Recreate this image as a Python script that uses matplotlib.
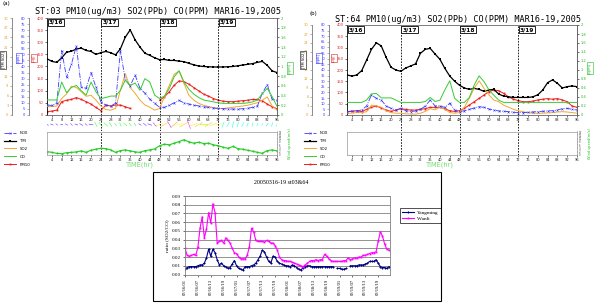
import numpy as np
import matplotlib
matplotlib.use("Agg")
import matplotlib.pyplot as plt
from matplotlib.patches import Rectangle
from matplotlib.transforms import blended_transform_factory as btf

W, H = 607, 307
fig = plt.figure(figsize=(W / 100, H / 100), dpi=100)
fig.patch.set_facecolor("white")


def R(x0, y0, x1, y1):
    return [x0 / W, 1 - y1 / H, (x1 - x0) / W, (y1 - y0) / H]


# ---------------- data ----------------
hours = np.arange(2, 97, 2)
day_labels = ["3/16", "3/17", "3/18", "3/19"]
day_starts = [0, 24, 48, 72]
x_ticks = np.arange(4, 97, 4)

# Station 03 (panel a)
nox_a = [8.2, 7.9, 9.6, 53, 31, 42, 57, 23, 22, 35, 23, 11, 8.2, 7.4, 9.6, 53, 29, 24, 33, 22,
         18, 13, 9.6, 6.3, 6.3, 8.2, 10, 12, 10, 9, 8.2, 7.4, 6.8, 6.3, 5.7, 5.5, 5.2, 4.9, 4.9, 4.9,
         5.2, 5.5, 6.3, 7.4, 18, 25, 13, 12]
tm_a = [232, 221, 217, 236, 259, 263, 272, 276, 266, 262, 250, 257, 262, 257, 248, 273, 321, 351, 310, 280,
        255, 246, 236, 228, 229, 225, 225, 222, 220, 213, 207, 202, 200, 199, 198, 198, 198, 199, 200, 203,
        206, 209, 212, 217, 221, 205, 182, 175]
so2_a = [2.6, 2.6, 2.8, 5.1, 6.5, 8.9, 8.5, 7.2, 5.8, 6.1, 4.6, 2.8, 1.7, 1.5, 2.0, 7.7, 12.8, 8.5, 6.7, 4.6,
         3.1, 2.4, 1.5, 2.0, 5.6, 9.2, 12.6, 13.6, 9.7, 6.1, 4.6, 3.6, 3.0, 2.6, 2.3, 2.0, 2.0, 2.2, 2.4, 2.6,
         2.8, 3.0, 3.4, 3.8, 4.6, 5.6, 2.8, 1.5]
co_a = [0.31, 0.31, 0.31, 0.68, 0.46, 0.57, 0.61, 0.50, 0.41, 0.68, 0.48, 0.34, 0.36, 0.39, 0.39, 0.51,
        0.72, 0.61, 0.66, 0.51, 0.75, 0.68, 0.41, 0.34, 0.39, 0.55, 0.79, 0.91, 0.68, 0.53, 0.43, 0.36,
        0.31, 0.29, 0.27, 0.25, 0.24, 0.24, 0.24, 0.24, 0.24, 0.25, 0.27, 0.31, 0.44, 0.55, 0.38, 0.18]
pm10_a = [14, 16, 20, 55, 61, 64, 72, 64, 55, 45, 31, 18, 41, 37, 41, 41, 34, 27, np.nan, np.nan,
          np.nan, np.nan, np.nan, 61, 75, 96, 123, 141, 137, 127, 113, 100, 86, 78, 68, 61, 57, 55, 55, 57,
          59, 61, 64, 64, 59, 45, 34, 26]
wind_a = [2.1, 1.6, 1.0, 0.8, 1.4, 1.6, 1.9, 2.5, 1.6, 2.9, 3.5, 4.1, 3.9, 3.1, 1.6, 2.7, 3.1, 2.5, 1.9, 1.6,
          2.7, 3.1, 3.7, 5.6, 6.6, 6.2, 7.2, 8.2, 9.3, 8.0, 7.2, 7.8, 7.0, 7.2, 6.2, 5.6, 4.7, 4.1, 5.2, 3.9,
          3.5, 2.9, 2.3, 1.6, 1.0, 2.7, 3.1, 2.5]
wdir_a = [300, 290, 310, 280, 300, 320, 290, 300, 310, 280, 150, 140, 130, 150, 140, 160, 130, 140, 150, 300,
          310, 290, 320, 70, 60, 330, 50, 80, 60, 340, 70, 60, 90, 60, 70, 80, 200, 210, 190, 200,
          210, 200, 190, 200, 210, 220, 200, 190]

# Station 64 (panel b)
nox_b = [3.0, 3.6, 3.8, 4.4, 8.0, 17.8, 14.8, 13.3, 8.0, 5.9, 4.4, 5.9, 3.8, 3.0, 3.6, 5.0, 8.0, 13.3, 8.0, 8.0,
         6.8, 10.4, 4.4, 3.0, 3.8, 5.0, 6.2, 7.4, 6.8, 5.3, 4.4, 3.6, 3.3, 3.0, 2.4, 2.1, 2.1, 2.4, 2.7, 3.0,
         3.3, 3.6, 3.8, 4.4, 5.6, 5.9, 5.0, 4.4]
tm_b = [178, 173, 178, 197, 244, 292, 321, 307, 256, 212, 200, 194, 209, 218, 227, 274, 292, 296, 271, 247,
        207, 173, 150, 132, 120, 114, 118, 114, 105, 111, 114, 93, 84, 81, 78, 78, 78, 78, 81, 90,
        111, 144, 156, 141, 120, 126, 129, 126]
so2_b = [0.6, 0.6, 0.8, 0.8, 1.1, 3.3, 3.0, 2.6, 1.4, 0.8, 0.6, 0.6, 0.4, 0.3, 0.3, 0.6, 1.2, 2.1, 1.7, 2.6,
         1.9, 0.8, 0.6, 0.8, 2.6, 5.6, 8.9, 11.4, 8.9, 6.7, 5.0, 4.4, 3.3, 2.6, 1.9, 1.4, 1.1, 0.8, 0.6, 0.6,
         0.6, 0.7, 0.8, 1.0, 1.1, 1.0, 0.8, 0.6]
co_b = [0.28, 0.28, 0.28, 0.28, 0.33, 0.47, 0.48, 0.38, 0.38, 0.38, 0.33, 0.28, 0.28, 0.28, 0.28, 0.28,
        0.30, 0.39, 0.30, 0.33, 0.56, 0.76, 0.37, 0.28, 0.28, 0.39, 0.67, 0.87, 0.74, 0.56, 0.44, 0.33,
        0.28, 0.28, 0.28, 0.28, 0.28, 0.28, 0.28, 0.28, 0.28, 0.28, 0.28, 0.28, 0.28, 0.28, 0.28, 0.28]
pm10_b = [15, 16, 19, 15, 25, 34, 40, 31, 22, 16, 22, 28, 25, 22, 22, 25, 28, 34, 34, 34,
          28, 19, 16, 19, 30, 44, 59, 74, 89, 104, 111, 108, 96, 81, 70, 64, 59, 59, 62, 67,
          70, 73, 70, 73, 67, 59, 40, 34]

# Ratio chart (hourly, 03/16 01h .. 03/19 24h)
ratio_labels = ["03/16/01", "03/16/07", "03/16/13", "03/16/19", "03/17/01", "03/17/07", "03/17/13",
                "03/17/19", "03/18/01", "03/18/07", "03/18/13", "03/18/19", "03/19/01", "03/19/07",
                "03/19/13", "03/19/19"]
yangming = [0.006, 0.008, 0.009, 0.009, 0.009, 0.009, 0.010, 0.011, 0.011, 0.013,
            0.019, 0.029, 0.021, 0.029, 0.025, 0.017, 0.011, 0.013, 0.010, 0.009,
            0.007, 0.008, 0.012, 0.016, 0.010, 0.007, 0.006, 0.005, 0.009, 0.009,
            0.009, 0.010, 0.011, 0.013, 0.017, 0.021, 0.028, 0.026, 0.020, 0.015,
            0.013, 0.021, 0.020, 0.015, 0.013, 0.012, 0.011, 0.010, 0.010, 0.009,
            0.011, 0.010, 0.008, 0.006, 0.005, 0.008, 0.009, 0.010, 0.010, 0.009,
            0.009, 0.009, 0.009, 0.009, 0.009, 0.009, 0.009, 0.009, 0.009, 0.009,
            np.nan, 0.007, 0.007, 0.006, 0.006, 0.007, np.nan, 0.010, 0.010, 0.010,
            0.010, 0.011, 0.011, 0.011, 0.012, 0.013, 0.015, 0.015, 0.015, 0.017,
            0.013, 0.009, 0.008, 0.008, 0.007, 0.009]
wanli = [0.030, 0.022, 0.021, 0.022, 0.023, 0.022, 0.031, 0.053, 0.066, 0.042,
         0.052, 0.071, 0.059, 0.081, 0.071, 0.036, 0.038, 0.039, 0.036, 0.042,
         0.039, 0.036, 0.030, 0.025, 0.024, 0.020, 0.018, 0.018, 0.018, 0.022,
         0.032, 0.053, 0.049, 0.039, 0.038, 0.038, 0.038, 0.037, 0.039, 0.038,
         0.036, 0.036, 0.033, 0.028, 0.020, 0.017, 0.016, 0.016, 0.015, 0.015,
         0.014, 0.013, 0.012, 0.011, 0.010, 0.009, 0.011, 0.013, 0.015, 0.016,
         0.016, 0.017, 0.016, 0.017, 0.017, 0.023, 0.021, 0.018, 0.016, 0.015,
         0.015, 0.015, 0.015, 0.015, 0.016, 0.016, 0.019, 0.017, 0.018, 0.019,
         0.019, 0.020, 0.020, 0.022, 0.022, 0.023, 0.024, 0.025, 0.025, 0.026,
         0.038, 0.049, 0.044, 0.035, 0.029, 0.028]

C_NOX, C_TM, C_SO2, C_CO, C_PM = "#3a3aff", "#000000", "#f0a830", "#33cc33", "#ee1c1c"
TS = 2.6  # tiny tick label size


def extra_left(ax, outward_px, lim, step, color):
    a = ax.twinx()
    a.spines["left"].set_position(("outward", outward_px * 0.72))
    a.spines["left"].set_visible(True)
    a.yaxis.set_ticks_position("left")
    for k in ["right", "top", "bottom"]:
        a.spines[k].set_visible(False)
    a.spines["left"].set_color("#777777")
    a.spines["left"].set_linewidth(0.6)
    a.set_ylim(0, lim)
    a.set_yticks(np.arange(0, lim + 0.001, step))
    a.tick_params(axis="y", labelsize=TS, labelcolor=color, color="#777777",
                  length=1.5, width=0.4, pad=1)
    return a


def panel(ox, top, tag, tag_xy, title, nox, tm, so2, co, pm10, wind, wdir):
    ax = fig.add_axes(R(ox + 47, top, ox + 277, 115))
    ax.set_xlim(2, 96)
    ax.set_ylim(0, 400)
    ax.set_yticks(np.arange(0, 401, 50))
    ax.set_xticks(x_ticks)
    ax.tick_params(axis="y", labelsize=TS, labelcolor="#dd2222", length=1.5, width=0.4, pad=1)
    ax.tick_params(axis="x", labelsize=TS, labelcolor="#222222", length=1.5, width=0.4, pad=1)
    for s in ax.spines.values():
        s.set_linewidth(0.6)
        s.set_color("#666666")
    ax.spines["left"].set_color("black")

    a_so2 = extra_left(ax, 35, 30, 3, "#e8a020")
    a_nox = extra_left(ax, 18, 80, 5, "#3333ff")
    a_co = ax.twinx()
    a_co.set_ylim(0, 2)
    a_co.set_yticks(np.arange(0, 2.01, 0.2))
    a_co.set_yticklabels(["0", "0.2", "0.4", "0.6", "0.8", "1", "1.2", "1.4", "1.6", "1.8", "2"])
    a_co.tick_params(axis="y", labelsize=TS, labelcolor="#22bb22", length=1.5, width=0.4, pad=1)
    for k in ["left", "top", "bottom"]:
        a_co.spines[k].set_visible(False)
    a_co.spines["right"].set_color("#666666")
    a_co.spines["right"].set_linewidth(0.6)

    l_pm, = ax.plot(hours, pm10, color=C_PM, lw=0.7, marker="s", ms=1.3, mew=0, label="PM10")
    l_tm, = ax.plot(hours, tm, color=C_TM, lw=0.9, marker="s", ms=1.6, mew=0, label="TM")
    l_so2, = a_so2.plot(hours, so2, color=C_SO2, lw=0.7, label="SO2")
    l_co, = a_co.plot(hours, co, color=C_CO, lw=0.7, label="CO")
    l_nox, = a_nox.plot(hours, nox, color=C_NOX, lw=0.6, ls="-.", marker="x", ms=1.4, mew=0.4,
                        label="NOX")

    trans = btf(ax.transData, ax.transAxes)
    h_ax = 115 - top
    for d, lab in zip(day_starts, day_labels):
        if d > 0:
            ax.axvline(d, color="black", lw=0.6, ls=(0, (2, 1.5)))
        ax.text(max(d, 2) + 0.6, 1 - 2.0 / h_ax, lab, transform=trans, ha="left", va="top",
                fontsize=4.2, fontweight="bold", family="DejaVu Sans",
                bbox=dict(boxstyle="square,pad=0.15", fc="white", ec="black", lw=0.6))

    # wind direction strip
    ab = fig.add_axes(R(ox + 47, 118, ox + 277, 131))
    ab.set_xlim(2, 96)
    ab.set_ylim(-1, 1)
    ab.axis("off")
    for d in day_starts[1:]:
        ab.axvline(d, color="black", lw=0.6, ls=(0, (2, 1.5)))
    if wdir is not None:
        th = np.deg2rad(np.array(wdir, dtype=float))
        spd = np.array(wind)
        u = -np.sin(th) * (2.0 + spd)
        v = -np.cos(th) * (2.0 + spd)
        ab.quiver(hours, np.zeros(len(hours)), u, v, np.array(wdir, dtype=float),
                  cmap="gist_rainbow", clim=(0, 360), angles="uv", pivot="middle",
                  scale_units="inches", scale=110, width=0.0025,
                  headwidth=0, headlength=0, headaxislength=0, alpha=0.8)

    # lower panel
    al = fig.add_axes(R(ox + 47, 132, ox + 277, 155))
    al.set_xlim(2, 96)
    al.set_ylim(0, 14)
    al.set_xticks(x_ticks)
    al.yaxis.tick_right()
    al.set_yticks(np.arange(0, 15, 2))
    al.tick_params(axis="x", labelsize=TS, labelcolor="#222222", length=1.5, width=0.4, pad=1)
    al.tick_params(axis="y", labelsize=1.8, labelcolor="#444444", length=1, width=0.3, pad=0.5)
    for s in al.spines.values():
        s.set_linewidth(0.5)
        s.set_color("#999999")
    for d in day_starts[1:]:
        al.axvline(d, color="black", lw=0.6, ls=(0, (2, 1.5)))
    if wind is not None:
        al.plot(hours, wind, color="#22cc22", lw=0.8, marker="o", ms=1.5, mew=0)

    # texts
    fig.text(tag_xy[0] / W, 1 - tag_xy[1] / H, tag, fontsize=4, ha="left", va="center")
    fig.text((ox + 35) / W, 1 - (top - 6) / H, title, fontsize=6.1, family="DejaVu Sans Mono",
             ha="left", va="center")
    fig.text((ox + 140) / W, 1 - 165 / H, "TIME(hr)", fontsize=4.8, color="#77dd77",
             ha="center", va="center")
    fig.text((ox + 3) / W, 1 - 60 / H, "[TM SO2]", fontsize=2.6, rotation=90, ha="center", va="center",
             bbox=dict(boxstyle="square,pad=0.15", fc="white", ec="black", lw=0.4))
    fig.text((ox + 19) / W, 1 - 58 / H, "[ppb]", fontsize=2.6, rotation=90, ha="center", va="center",
             color="#3333ff", bbox=dict(boxstyle="square,pad=0.15", fc="white", ec="#3333ff", lw=0.4))
    fig.text((ox + 34) / W, 1 - 58 / H, "[ug]", fontsize=2.6, rotation=90, ha="center", va="center",
             color="#dd2222", bbox=dict(boxstyle="square,pad=0.15", fc="white", ec="#dd2222", lw=0.4))
    fig.text((ox + 290) / W, 1 - 68 / H, "[ppm]", fontsize=2.6, rotation=90, ha="center", va="center",
             color="#22bb22", bbox=dict(boxstyle="square,pad=0.15", fc="white", ec="#22bb22", lw=0.4))
    fig.text((ox + 290) / W, 1 - 144 / H, "Wind speed(m/s)", fontsize=2.6, rotation=90, ha="center",
             va="center", color="#22bb22")

    handles = [l_nox, l_tm, l_so2, l_co, l_pm]
    fig.legend(handles, [h.get_label() for h in handles], loc="upper left",
               bbox_to_anchor=((ox + 4) / W, 1 - 131 / H), frameon=False, fontsize=2.8,
               handlelength=3.2, labelspacing=1.0, handletextpad=0.8, borderpad=0, borderaxespad=0)


panel(0, 18, "(a)", (3, 4), "ST:03 PM10(ug/m3) SO2(PPb) CO(PPM) MAR16-19,2005",
      nox_a, tm_a, so2_a, co_a, pm10_a, wind_a, wdir_a)
panel(300, 25, "(b)", (309, 13), "ST:64 PM10(ug/m3) SO2(PPb) CO(PPM) MAR16-19,2005",
      nox_b, tm_b, so2_b, co_b, pm10_b, None, None)

# ---------------- ratio chart ----------------
SERIF = "Liberation Serif"
fig.add_artist(Rectangle((153 / W, 1 - 301 / H), (441 - 153) / W, (301 - 172) / H,
                         transform=fig.transFigure, fill=False, ec="black", lw=0.8))
ar = fig.add_axes(R(185, 196, 390, 274.5))
idx = np.arange(len(wanli))
ar.plot(idx, yangming, color="#000080", lw=0.8, marker="D", ms=1.3, mew=0, label="Yangming")
ar.plot(idx, wanli, color="#ff00ff", lw=0.8, marker="s", ms=1.3, mew=0, label="Wanli")
ar.set_xlim(0, 95.5)
ar.set_ylim(0, 0.09)
ar.set_yticks(np.arange(0, 0.0901, 0.01))
ar.set_yticklabels([f"{v:.2f}" for v in np.arange(0, 0.0901, 0.01)], family=SERIF, fontsize=3.6)
ar.set_xticks(np.arange(0, 96, 6))
ar.set_xticklabels(ratio_labels, rotation=90, family=SERIF, fontsize=3.3)
ar.tick_params(axis="both", length=1.5, width=0.4, pad=1.5)
ar.grid(axis="y", color="#808080", lw=0.6)
ar.set_axisbelow(True)
for s in ar.spines.values():
    s.set_color("#808080")
    s.set_linewidth(0.6)
ar.set_ylabel("ratio (SO2/CO)", family=SERIF, fontsize=3.8, labelpad=2)
fig.text(281 / W, 1 - 182 / H, "20050316-19 st03&64", family=SERIF, fontsize=4.3,
         ha="center", va="center")
leg = ar.legend(loc="upper left", bbox_to_anchor=(400 / W, 1 - 208 / H),
                bbox_transform=fig.transFigure, prop={"family": SERIF, "size": 3.8},
                frameon=True, fancybox=False, edgecolor="black", handlelength=2.2,
                labelspacing=0.3, borderpad=0.4, handletextpad=0.6, borderaxespad=0)
leg.get_frame().set_linewidth(0.6)

fig.savefig("out.png", dpi=100, facecolor="white")
